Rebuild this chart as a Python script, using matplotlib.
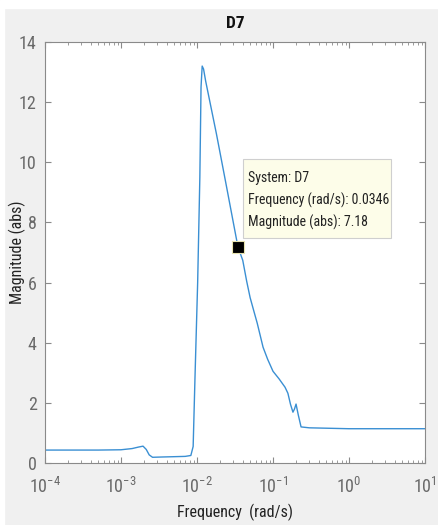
import numpy as np
import matplotlib
matplotlib.use('Agg')
import matplotlib.pyplot as plt
from matplotlib import font_manager
from matplotlib.patches import Rectangle
from matplotlib.ticker import LogLocator, NullFormatter, MultipleLocator

freq = [1e-4, 2e-4, 5e-4, 1e-3, 1.4e-3, 1.7e-3, 1.95e-3, 2.15e-3, 2.35e-3, 2.6e-3,
        3.5e-3, 5e-3, 7e-3, 8.3e-3, 8.9e-3, 9.4e-3, 1.02e-2, 1.09e-2, 1.13e-2,
        1.17e-2, 1.22e-2, 1.3e-2, 1.8e-2, 2.4e-2, 3.46e-2, 4.0e-2, 4.5e-2, 5.0e-2,
        5.6e-2, 6.2e-2, 7.4e-2, 0.085, 0.1, 0.12, 0.144, 0.157, 0.17, 0.183, 0.192,
        0.201, 0.215, 0.234, 0.3, 1.0, 10.0]
mag = [0.43, 0.43, 0.43, 0.44, 0.48, 0.53, 0.56, 0.45, 0.27, 0.19,
       0.2, 0.21, 0.22, 0.25, 0.55, 2.8, 6.0, 9.5, 12.5,
       13.2, 13.1, 12.7, 10.95, 9.3, 7.18, 6.74, 6.05, 5.5,
       5.05, 4.65, 3.85, 3.45, 3.05, 2.8, 2.52, 2.32, 1.95, 1.69, 1.8,
       1.96, 1.6, 1.2, 1.17, 1.14, 1.14]
tip_f = 0.0346
tip_m = 7.18
tip_lines = ['System: D7', 'Frequency (rad/s): 0.0346', 'Magnitude (abs): 7.18']

names = {f.name for f in font_manager.fontManager.ttflist}
fam = 'Liberation Sans'
for cand in ['Liberation Sans Narrow', 'Roboto Condensed', 'Open Sans Condensed',
             'Noto Sans Condensed', 'Arial Narrow']:
    if cand in names:
        fam = cand
        break
narrow = fam != 'Liberation Sans'
k = 1.0 if narrow else 0.9
plt.rcParams['font.family'] = [fam, 'DejaVu Sans']
plt.rcParams['mathtext.fontset'] = 'custom'
plt.rcParams['mathtext.rm'] = fam
plt.rcParams['mathtext.it'] = fam

W, H = 438, 525
fig = plt.figure(figsize=(W / 100, H / 100), dpi=100, facecolor='#f0f0f0')
# white strips at the top and left edge
fig.patches.append(Rectangle((0, 1 - 8 / H), 1, 8 / H, transform=fig.transFigure,
                             color='white', zorder=0))
fig.patches.append(Rectangle((0, 0), 4 / W, 1, transform=fig.transFigure,
                             color='white', zorder=0))

ax = fig.add_axes([45 / W, (H - 463) / H, 380 / W, 421 / H])
ax.set_facecolor('white')
ax.semilogx(freq, mag, color='#3a8fd3', lw=1.0)
ax.plot([tip_f], [tip_m], 's', ms=8, mfc='black', mec='#e8e4b0', mew=0.8, zorder=5)

ax.set_xlim(1e-4, 10)
ax.set_ylim(0, 14)
ax.yaxis.set_major_locator(MultipleLocator(2))
ax.xaxis.set_major_locator(LogLocator(base=10, numticks=10))
ax.xaxis.set_minor_locator(LogLocator(base=10, subs=np.arange(2, 10), numticks=10))
ax.xaxis.set_minor_formatter(NullFormatter())

tick_c = '#6a6a6a'
for s in ax.spines.values():
    s.set_color('#8a8a8a')
    s.set_linewidth(0.8)
ax.tick_params(which='both', direction='in', top=True, right=True, color='#8a8a8a',
               labelcolor=tick_c, labelsize=13 * k)
ax.tick_params(which='major', length=4)
ax.tick_params(which='minor', length=2.5)
ax.tick_params(axis='x', pad=10)
ax.tick_params(axis='y', pad=6)

ax.set_title('D7', fontsize=12.5 * k, fontweight='bold', color='#111111', pad=10)
ax.set_xlabel('Frequency  (rad/s)', fontsize=11.5 * k, color='#222222')
ax.set_ylabel('Magnitude (abs)', fontsize=11.5 * k, color='#222222')
ax.xaxis.set_label_coords(0.5, -(512 - 463) / 421)
ax.yaxis.set_label_coords(-(45 - 17) / 380, 0.5)
ax.xaxis.label.set_va('center')
ax.yaxis.label.set_va('center')

# data tip box
x0, x1 = (243 - 45) / 380, (391 - 45) / 380
y0, y1 = (463 - 238) / 421, (463 - 159) / 421
ax.add_patch(Rectangle((x0, y0), x1 - x0, y1 - y0, transform=ax.transAxes,
                       facecolor='#fdfde9', edgecolor='#cfcfcf', lw=0.8, zorder=6))
for i, t in enumerate(tip_lines):
    ax.text((248 - 45) / 380, (463 - 178 - 22 * i) / 421, t, transform=ax.transAxes,
            fontsize=10 * (1.0 if narrow else 0.92), color='#222222',
            va='center', ha='left', zorder=7)

fig.savefig('out.png', dpi=100, facecolor=fig.get_facecolor())
